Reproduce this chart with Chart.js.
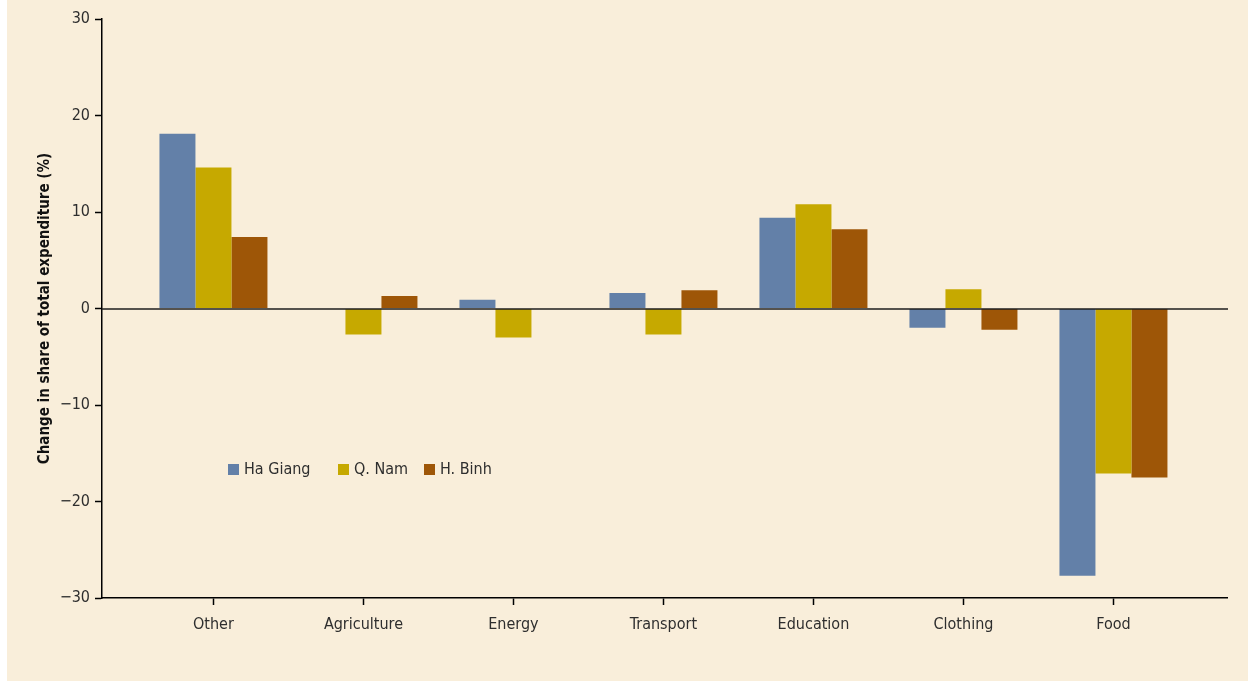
<!DOCTYPE html>
<html>
<head>
<meta charset="utf-8">
<title>Change in share of total expenditure</title>
<script src="https://cdn.jsdelivr.net/npm/chart.js@4.4.1/dist/chart.umd.min.js"></script>
<style>
    html, body { margin: 0; padding: 0; background: #ffffff; }
    #painel { position: absolute; left: 7px; top: 0; width: 1241px; height: 681px; background: #f9eeda; }
    #grafico { position: absolute; left: 0; top: 0; }
</style>
</head>
<body>
<div id="painel"></div>
<canvas id="grafico" width="1248" height="681"></canvas>
<script>
// Dados
const categorias = ['Other', 'Agriculture', 'Energy', 'Transport', 'Education', 'Clothing', 'Food'];
const haGiang = [18.1, null, 0.9, 1.6, 9.4, -2.0, -27.7];
const qNam = [14.6, -2.7, -3.0, -2.7, 10.8, 2.0, -17.1];
const hBinh = [7.4, 1.3, null, 1.9, 8.2, -2.2, -17.5];
const ticksY = [-30, -20, -10, 0, 10, 20, 30];

const FONTE = "'DejaVu Sans Condensed', 'Liberation Sans Narrow', 'Arial Narrow', sans-serif";
const COR_TEXTO = '#2e2e2e';

Chart.defaults.font.family = FONTE;
Chart.defaults.color = COR_TEXTO;

// Eixo x linear: cada categoria fica num valor inteiro
const pontos = serie => serie.map((v, i) => ({ x: i, y: v }));

// Linha do zero por cima das barras
const linhaZero = {
    id: 'linhaZero',
    afterDatasetsDraw(chart) {
        const { ctx, chartArea, scales } = chart;
        const y = Math.round(scales.y.getPixelForValue(0));
        ctx.save();
        ctx.strokeStyle = 'rgba(30, 30, 30, 0.75)';
        ctx.lineWidth = 2;
        ctx.beginPath();
        ctx.moveTo(chartArea.left, y);
        ctx.lineTo(chartArea.right + 1, y);
        ctx.stroke();
        ctx.restore();
    }
};

// Legenda desenhada dentro da área do gráfico
const legendaInterna = {
    id: 'legendaInterna',
    afterDraw(chart) {
        const ctx = chart.ctx;
        const posX = [228, 338, 424];
        const y = 469;
        ctx.save();
        ctx.font = '16px ' + FONTE;
        ctx.textBaseline = 'middle';
        ctx.textAlign = 'left';
        chart.data.datasets.forEach((ds, i) => {
            ctx.fillStyle = ds.backgroundColor;
            ctx.fillRect(posX[i], y - 5, 11, 11);
            ctx.fillStyle = COR_TEXTO;
            ctx.fillText(ds.label, posX[i] + 16, y + 1);
        });
        ctx.restore();
    }
};

const ctx = document.getElementById('grafico').getContext('2d');
new Chart(ctx, {
    type: 'bar',
    data: {
        datasets: [
            { label: 'Ha Giang', data: pontos(haGiang), backgroundColor: '#6380a8' },
            { label: 'Q. Nam', data: pontos(qNam), backgroundColor: '#c6a900' },
            { label: 'H. Binh', data: pontos(hBinh), backgroundColor: '#9e5607' }
        ]
    },
    options: {
        responsive: false,
        devicePixelRatio: 1,
        animation: false,
        categoryPercentage: 0.72,
        barPercentage: 1,
        layout: { padding: { left: 32, top: 19, right: 21, bottom: 0 } },
        plugins: {
            legend: { display: false },
            tooltip: { enabled: false }
        },
        scales: {
            x: {
                type: 'linear',
                offset: false,
                min: -0.743,
                max: 6.757,
                afterBuildTicks: s => { s.ticks = categorias.map((_, i) => ({ value: i })); },
                afterFit: s => { s.height = 83; },
                ticks: {
                    autoSkip: false,
                    maxRotation: 0,
                    padding: 10,
                    font: { size: 16 },
                    callback: v => categorias[v]
                },
                grid: {
                    offset: false,
                    drawOnChartArea: false,
                    drawTicks: true,
                    tickLength: 7,
                    tickColor: '#000',
                    tickWidth: 1.5
                },
                border: { color: '#000', width: 1.5 }
            },
            y: {
                min: -30,
                max: 30,
                afterBuildTicks: s => { s.ticks = ticksY.map(v => ({ value: v })); },
                afterFit: s => { s.width = 70; },
                ticks: {
                    padding: 5,
                    font: { size: 16 },
                    callback: v => v < 0 ? '\u2212' + Math.abs(v) : String(v)
                },
                grid: {
                    drawOnChartArea: false,
                    drawTicks: true,
                    tickLength: 7,
                    tickColor: '#000',
                    tickWidth: 1.5
                },
                border: { color: '#000', width: 1.5 },
                title: {
                    display: true,
                    text: 'Change in share of total expenditure (%)',
                    color: '#111',
                    font: { size: 15, weight: 'bold' }
                }
            }
        }
    },
    plugins: [linhaZero, legendaInterna]
});
</script>
</body>
</html>
